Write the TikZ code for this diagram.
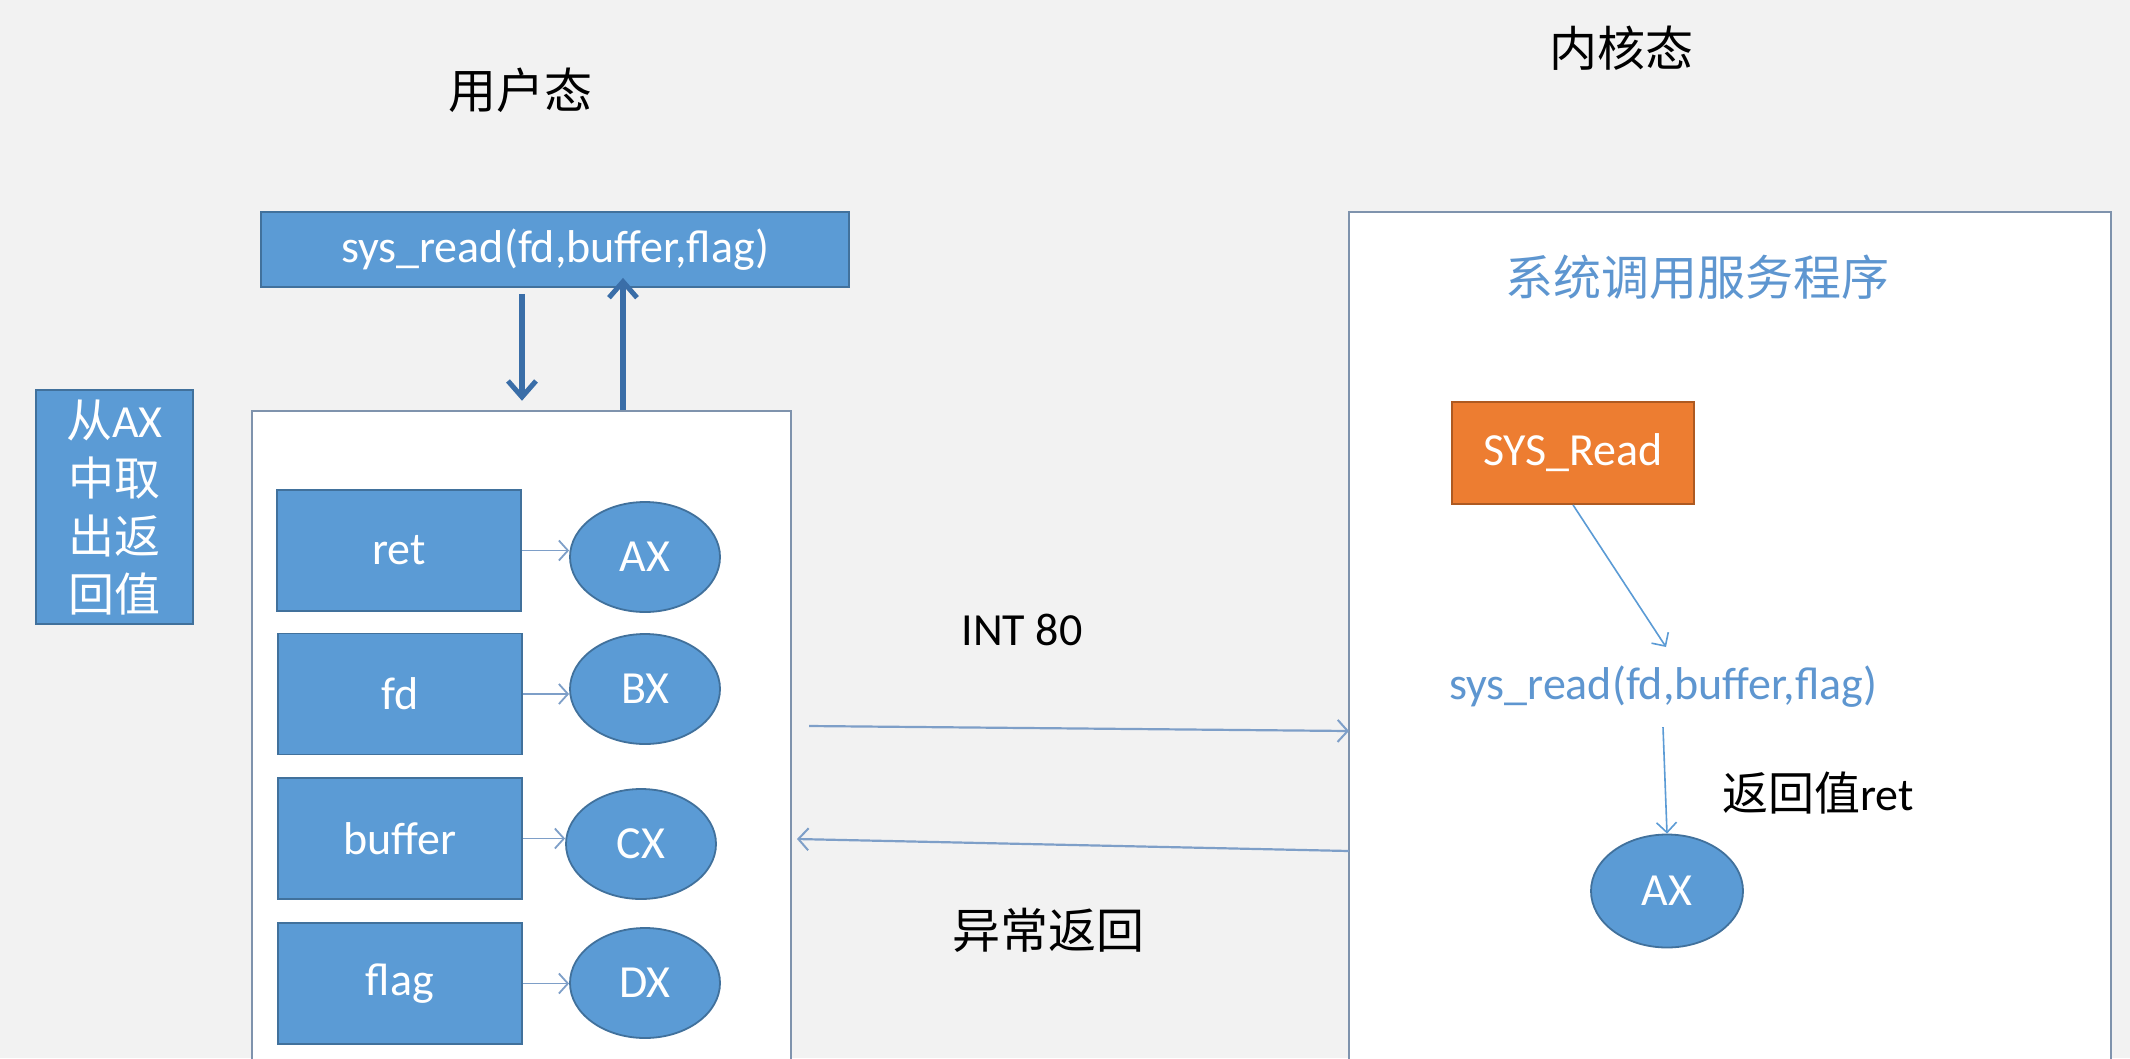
\documentclass[tikz,border=0pt]{standalone}
\usepackage{fontspec}
\setmainfont{Carlito}
\newfontfamily\cjk{Noto Sans CJK SC}
\usetikzlibrary{arrows.meta,shapes.geometric}
\definecolor{bgc}{HTML}{F2F2F2}
\definecolor{blu}{HTML}{5B9BD5}
\definecolor{bdr}{HTML}{41719C}
\definecolor{org}{HTML}{ED7D31}
\definecolor{orgb}{HTML}{AE5A21}
\definecolor{frame}{HTML}{7F93AD}
\definecolor{thickc}{HTML}{3A6EA8}
\definecolor{thinc}{HTML}{7E9FC8}
\definecolor{ktext}{HTML}{5E96D0}
\begin{document}
\begin{tikzpicture}[x=1pt,y=-1pt,
  fs/.style={font=\fontsize{46pt}{58pt}\selectfont},
  plain/.style={fs, inner sep=0pt, text=black},
  bluebox/.style={fs, draw=bdr, fill=blu, line width=1.8pt, text=white, inner sep=0pt},
  regell/.style={fs, ellipse, draw=bdr, fill=blu, line width=1.8pt, text=white,
    minimum width=150pt, minimum height=110pt, inner sep=0pt},
  framebox/.style={draw=frame, fill=white, line width=2.5pt},
  thickarr/.style={draw=thickc, line width=5.5pt, -{Straight Barb[length=16pt,width=28pt,line width=5pt]}},
  smallarr/.style={draw=thinc, line width=1.8pt, -{Straight Barb[length=9pt,width=20pt,line width=1.8pt]}},
  thinarr/.style={draw=thinc, line width=2.2pt, -{Straight Barb[length=10pt,width=22pt,line width=2pt]}},
  karr/.style={draw=blu, line width=1.6pt, -{Straight Barb[length=10pt,width=20pt,line width=1.6pt]}}]
\useasboundingbox (0,0) rectangle (2130,1058);
\clip (0,0) rectangle (2130,1058);
\fill[bgc] (0,0) rectangle (2130,1058);

% titles
\node[plain, font=\fontsize{48pt}{58pt}\selectfont\cjk] (tuser) at (520,90) {用户态};
\node[plain, font=\fontsize{48pt}{58pt}\selectfont\cjk] (tkern) at (1621,48) {内核态};

% user side
\node[bluebox, minimum width=588pt, minimum height=75pt] (topbox) at (555,249.5) {sys\_read(fd,buffer,flag)};
\node[bluebox, minimum width=157pt, minimum height=234pt, align=center] (left) at (114.5,507)
  {{\cjk 从}AX\\{\cjk 中取}\\{\cjk 出返}\\{\cjk 回值}};
\node[framebox, minimum width=539pt, minimum height=669pt, inner sep=0pt] (ubox) at (521.5,745.5) {};

\coordinate (dnx) at (522,0);
\coordinate (upx) at (623,0);
\draw[thickarr, shorten <=6pt, shorten >=9pt] (topbox.south -| dnx) -- (ubox.north -| dnx);
\draw[thickarr, shorten >=-10pt] (ubox.north -| upx) -- (topbox.south -| upx);

\node[bluebox, minimum width=244pt, minimum height=121pt] (ret) at (399,550.5) {ret};
\node[bluebox, minimum width=244pt, minimum height=121pt] (fd) at (400,694) {fd};
\node[bluebox, minimum width=244pt, minimum height=121pt] (buf) at (400,838.5) {buffer};
\node[bluebox, minimum width=244pt, minimum height=121pt] (flag) at (400,983.5) {flag};

\node[regell] (ax) at (645,557) {AX};
\node[regell] (bx) at (645,689) {BX};
\node[regell] (cx) at (641,844) {CX};
\node[regell] (dx) at (645,983) {DX};

\draw[smallarr] (ret.east) -- (ret.east -| ax.west);
\draw[smallarr] (fd.east) -- (fd.east -| bx.west);
\draw[smallarr] (buf.east) -- (buf.east -| cx.west);
\draw[smallarr] (flag.east) -- (flag.east -| dx.west);

% kernel side
\node[framebox, minimum width=762pt, minimum height=868pt, inner sep=0pt] (kbox) at (1730,646) {};
\node[plain, text=ktext, font=\fontsize{48pt}{58pt}\selectfont\cjk] (ktitle) at (1697,277) {系统调用服务程序};
\node[fs, draw=orgb, fill=org, line width=1.8pt, text=white, inner sep=0pt,
  minimum width=242pt, minimum height=102pt] (sysr) at (1573,453) {SYS\_Read};
\node[plain, text=ktext, minimum height=80pt] (ksys) at (1663,687) {sys\_read(fd,buffer,flag)};
\node[regell, minimum width=152pt, minimum height=113pt] (kax) at (1667,891) {AX};
\node[plain] (retv) at (1818,793) {{\cjk 返回值}ret};

\coordinate (ktip) at (1666,647);
\draw[karr] (sysr.south) -- (ktip);
\draw[karr] (ksys.south) -- (kax.north);

% between
\coordinate (i0) at (809,726);
\coordinate (i1) at (1349,731);
\coordinate (r0) at (1349,851);
\coordinate (r1) at (797,839);
\draw[thinarr] (i0) -- (i1);
\draw[thinarr] (r0) -- (r1);
\node[plain] (int) at (1022,630) {INT 80};
\node[plain, font=\fontsize{48pt}{58pt}\selectfont\cjk] (exc) at (1048,930) {异常返回};
\end{tikzpicture}
\end{document}
